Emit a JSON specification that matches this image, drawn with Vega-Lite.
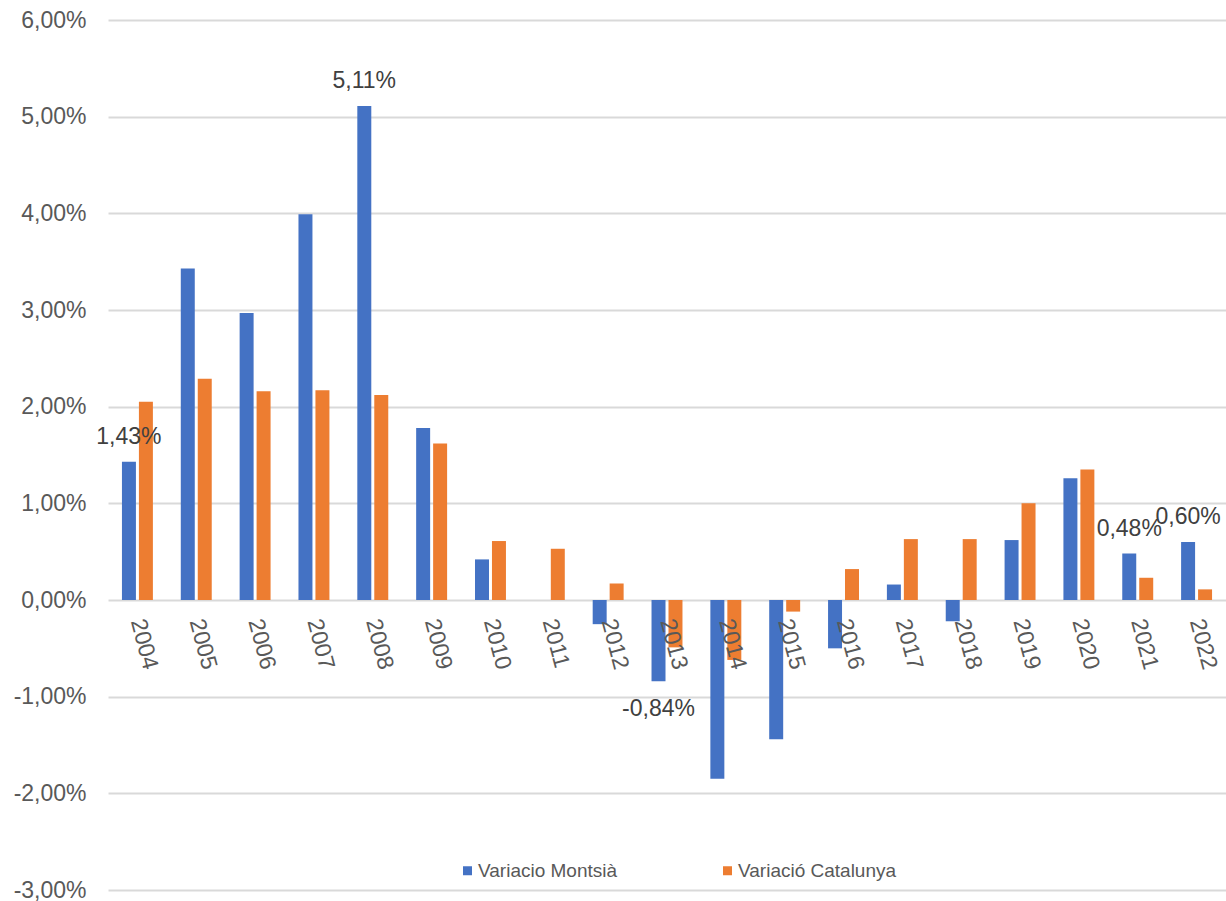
{
  "$schema": "https://vega.github.io/schema/vega-lite/v6.json",
  "autosize": {"type": "none"},
  "padding": {"left": 108, "top": 20, "right": 0, "bottom": 11},
  "width": 1118,
  "height": 870,
  "background": "white",
  "config": {
    "font": "Liberation Sans",
    "view": {"stroke": null},
    "locale": {
      "number": {"decimal": ",", "thousands": ".", "grouping": [3], "currency": ["", " €"], "minus": "-"}
    }
  },
  "data": {
    "values": [
      {"any": "2004", "serie": "Variacio Montsià", "valor": 0.0143, "etiqueta": true},
      {"any": "2005", "serie": "Variacio Montsià", "valor": 0.0343, "etiqueta": false},
      {"any": "2006", "serie": "Variacio Montsià", "valor": 0.0297, "etiqueta": false},
      {"any": "2007", "serie": "Variacio Montsià", "valor": 0.0399, "etiqueta": false},
      {"any": "2008", "serie": "Variacio Montsià", "valor": 0.0511, "etiqueta": true},
      {"any": "2009", "serie": "Variacio Montsià", "valor": 0.0178, "etiqueta": false},
      {"any": "2010", "serie": "Variacio Montsià", "valor": 0.0042, "etiqueta": false},
      {"any": "2011", "serie": "Variacio Montsià", "valor": 0.0, "etiqueta": false},
      {"any": "2012", "serie": "Variacio Montsià", "valor": -0.0025, "etiqueta": false},
      {"any": "2013", "serie": "Variacio Montsià", "valor": -0.0084, "etiqueta": true},
      {"any": "2014", "serie": "Variacio Montsià", "valor": -0.0185, "etiqueta": false},
      {"any": "2015", "serie": "Variacio Montsià", "valor": -0.0144, "etiqueta": false},
      {"any": "2016", "serie": "Variacio Montsià", "valor": -0.0050, "etiqueta": false},
      {"any": "2017", "serie": "Variacio Montsià", "valor": 0.0016, "etiqueta": false},
      {"any": "2018", "serie": "Variacio Montsià", "valor": -0.0022, "etiqueta": false},
      {"any": "2019", "serie": "Variacio Montsià", "valor": 0.0062, "etiqueta": false},
      {"any": "2020", "serie": "Variacio Montsià", "valor": 0.0126, "etiqueta": false},
      {"any": "2021", "serie": "Variacio Montsià", "valor": 0.0048, "etiqueta": true},
      {"any": "2022", "serie": "Variacio Montsià", "valor": 0.0060, "etiqueta": true},
      {"any": "2004", "serie": "Variació Catalunya", "valor": 0.0205, "etiqueta": false},
      {"any": "2005", "serie": "Variació Catalunya", "valor": 0.0229, "etiqueta": false},
      {"any": "2006", "serie": "Variació Catalunya", "valor": 0.0216, "etiqueta": false},
      {"any": "2007", "serie": "Variació Catalunya", "valor": 0.0217, "etiqueta": false},
      {"any": "2008", "serie": "Variació Catalunya", "valor": 0.0212, "etiqueta": false},
      {"any": "2009", "serie": "Variació Catalunya", "valor": 0.0162, "etiqueta": false},
      {"any": "2010", "serie": "Variació Catalunya", "valor": 0.0061, "etiqueta": false},
      {"any": "2011", "serie": "Variació Catalunya", "valor": 0.0053, "etiqueta": false},
      {"any": "2012", "serie": "Variació Catalunya", "valor": 0.0017, "etiqueta": false},
      {"any": "2013", "serie": "Variació Catalunya", "valor": -0.0049, "etiqueta": false},
      {"any": "2014", "serie": "Variació Catalunya", "valor": -0.0062, "etiqueta": false},
      {"any": "2015", "serie": "Variació Catalunya", "valor": -0.0012, "etiqueta": false},
      {"any": "2016", "serie": "Variació Catalunya", "valor": 0.0032, "etiqueta": false},
      {"any": "2017", "serie": "Variació Catalunya", "valor": 0.0063, "etiqueta": false},
      {"any": "2018", "serie": "Variació Catalunya", "valor": 0.0063, "etiqueta": false},
      {"any": "2019", "serie": "Variació Catalunya", "valor": 0.0100, "etiqueta": false},
      {"any": "2020", "serie": "Variació Catalunya", "valor": 0.0135, "etiqueta": false},
      {"any": "2021", "serie": "Variació Catalunya", "valor": 0.0023, "etiqueta": false},
      {"any": "2022", "serie": "Variació Catalunya", "valor": 0.0011, "etiqueta": false}
    ]
  },
  "encoding": {
    "x": {
      "field": "any",
      "type": "nominal",
      "sort": null,
      "scale": {"paddingInner": 0.474, "paddingOuter": 0.237},
      "axis": {
        "title": null,
        "orient": "bottom",
        "offset": -290,
        "zindex": 1,
        "domain": false,
        "ticks": false,
        "tickSize": 0,
        "labelAngle": 75,
        "labelAlign": "left",
        "labelBaseline": "middle",
        "labelPadding": 19,
        "labelFontSize": 23,
        "labelColor": "#595959",
        "grid": false
      }
    },
    "xOffset": {
      "field": "serie",
      "type": "nominal",
      "scale": {"domain": ["Variacio Montsià", "Variació Catalunya"], "paddingInner": 0.176, "paddingOuter": 0}
    },
    "y": {
      "field": "valor",
      "type": "quantitative",
      "scale": {"domain": [-0.03, 0.06], "nice": false, "zero": false},
      "axis": {
        "title": null,
        "format": ".2%",
        "values": [-0.03, -0.02, -0.01, 0, 0.01, 0.02, 0.03, 0.04, 0.05, 0.06],
        "domain": false,
        "ticks": false,
        "labelPadding": 22,
        "labelFontSize": 23,
        "labelColor": "#595959",
        "gridColor": "#d9d9d9",
        "gridWidth": 1.8
      }
    }
  },
  "layer": [
    {
      "mark": {"type": "bar"},
      "encoding": {
        "color": {
          "field": "serie",
          "type": "nominal",
          "scale": {"domain": ["Variacio Montsià", "Variació Catalunya"], "range": ["#4472C4", "#ED7D31"]},
          "legend": {
            "title": null,
            "orient": "none",
            "direction": "horizontal",
            "legendX": 350,
            "legendY": 841,
            "padding": 0,
            "symbolType": "square",
            "symbolSize": 81,
            "symbolStrokeWidth": 0,
            "labelFont": "Liberation Sans",
            "labelFontSize": 19,
            "labelLimit": 400,
            "labelColor": "#595959",
            "labelOffset": 1,
            "columnPadding": 100
          }
        }
      }
    },
    {
      "transform": [{"filter": "datum.etiqueta && datum.valor >= 0"}],
      "mark": {"type": "text", "dy": -25, "baseline": "middle", "align": "center", "fontSize": 23, "color": "#404040"},
      "encoding": {"text": {"field": "valor", "type": "quantitative", "format": ".2%"}}
    },
    {
      "transform": [{"filter": "datum.etiqueta && datum.valor < 0"}],
      "mark": {"type": "text", "dy": 28, "baseline": "middle", "align": "center", "fontSize": 23, "color": "#404040"},
      "encoding": {"text": {"field": "valor", "type": "quantitative", "format": ".2%"}}
    }
  ]
}
